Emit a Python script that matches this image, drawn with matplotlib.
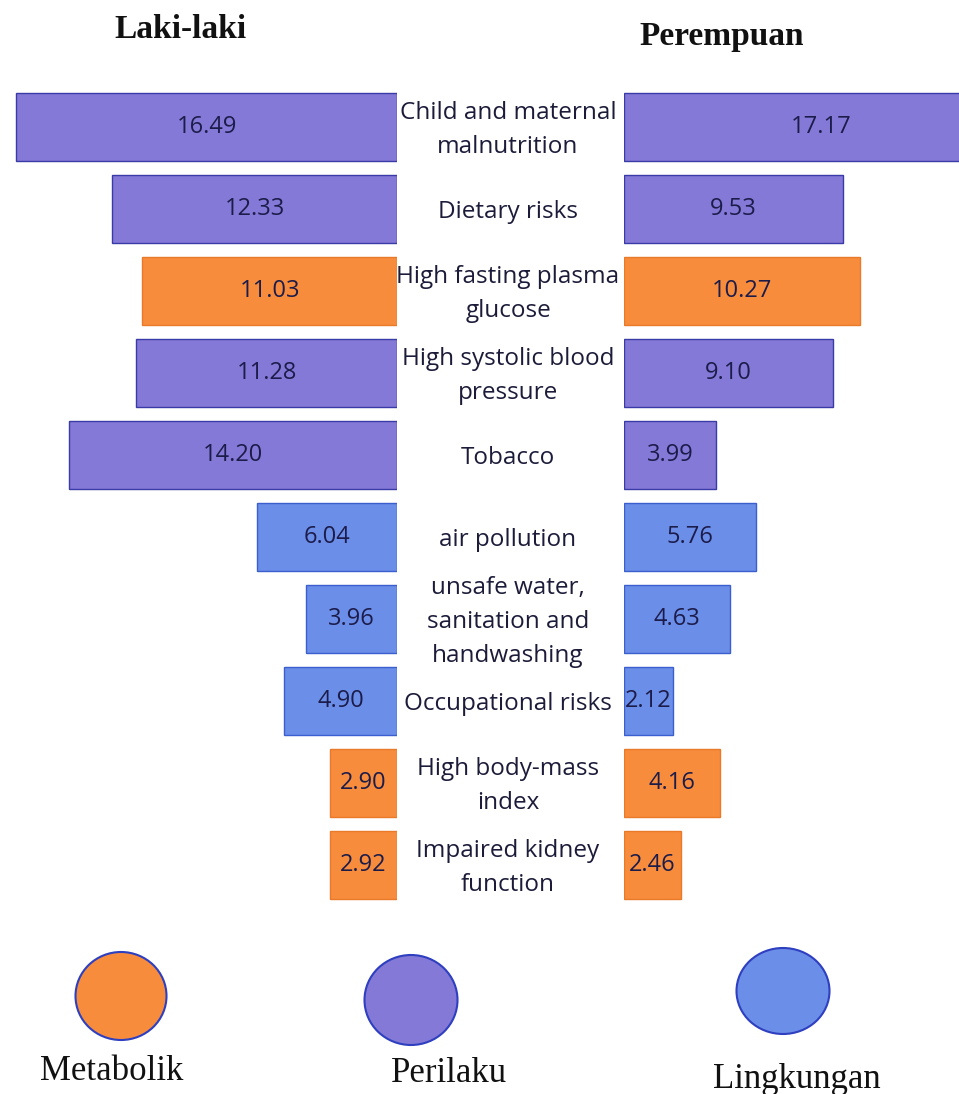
import matplotlib
matplotlib.use("Agg")
import matplotlib.pyplot as plt
from matplotlib.patches import Ellipse

categories = ["Child and maternal\nmalnutrition", "Dietary risks",
              "High fasting plasma\nglucose", "High systolic blood\npressure",
              "Tobacco", "air pollution",
              "unsafe water,\nsanitation and\nhandwashing",
              "Occupational risks", "High body-mass\nindex",
              "Impaired kidney\nfunction"]
male = [16.49, 12.33, 11.03, 11.28, 14.20, 6.04, 3.96, 4.90, 2.90, 2.92]
female = [17.17, 9.53, 10.27, 9.10, 3.99, 5.76, 4.63, 2.12, 4.16, 2.46]
groups = ["Perilaku", "Perilaku", "Metabolik", "Perilaku", "Perilaku",
          "Lingkungan", "Lingkungan", "Lingkungan", "Metabolik", "Metabolik"]
legend_groups = ["Metabolik", "Perilaku", "Lingkungan"]
headers = ["Laki-laki", "Perempuan"]

fill = {"Metabolik": "#f78c3c", "Perilaku": "#8479d6", "Lingkungan": "#6b8ee8"}
edge = {"Metabolik": "#e87a2a", "Perilaku": "#3a3aa8", "Lingkungan": "#3c5fd0"}

W, H = 959, 1094
fig = plt.figure(figsize=(W / 100, H / 100), dpi=100)

pxL = 23.1  # pixels per unit, left
pxR = 23.0
top, bottom = 86, 906
ax_h = (bottom - top) / H
ax_y = 1 - bottom / H

left_edge = 397
axL = fig.add_axes([0, ax_y, left_edge / W, ax_h])
right_start = 624
axR = fig.add_axes([right_start / W, ax_y, (W - right_start) / W, ax_h])

n = len(categories)
ypos = list(range(n))
colsF = [fill[g] for g in groups]
colsE = [edge[g] for g in groups]
num_color = "#1c1c4a"
num_font = ["Open Sans", "DejaVu Sans"]

axL.barh(ypos, male, height=0.83, color=colsF, edgecolor=colsE, linewidth=1.0)
axL.set_xlim(left_edge / pxL, 0)
axR.barh(ypos, female, height=0.83, color=colsF, edgecolor=colsE, linewidth=1.0)
axR.set_xlim(0, (W - right_start) / pxR)
for a in (axL, axR):
    a.set_ylim(n - 0.5, -0.5)
    a.axis("off")

for i, v in enumerate(male):
    axL.text(v / 2, i, f"{v:.2f}", ha="center", va="center", fontsize=17,
             color=num_color, family=num_font)
for i, v in enumerate(female):
    axR.text(v / 2, i, f"{v:.2f}", ha="center", va="center", fontsize=17,
             color=num_color, family=num_font)

# overlay axes for labels / legend in pixel coordinates
ov = fig.add_axes([0, 0, 1, 1])
ov.set_xlim(0, W)
ov.set_ylim(H, 0)
ov.axis("off")
ov.patch.set_alpha(0)

row_h = (bottom - top) / n
for i, c in enumerate(categories):
    ov.text(508, top + row_h * (i + 0.5) + 3, c, ha="center", va="center",
            fontsize=17.5, color="#1c1c3a", family=num_font, linespacing=1.55)

ov.text(180, 30, headers[0], ha="center", va="center", fontsize=24,
        fontweight="bold", family="Liberation Serif", color="#111111")
ov.text(722, 36, headers[1], ha="center", va="center", fontsize=24,
        fontweight="bold", family="Liberation Serif", color="#111111")

ell = [(121, 996, 91, 88), (411, 1000, 93, 90), (783, 991, 93, 86)]
lab = [(112, 1071), (449, 1073), (797, 1079)]
for g, (cx, cy, w, h), (lx, ly) in zip(legend_groups, ell, lab):
    ov.add_patch(Ellipse((cx, cy), w, h, facecolor=fill[g], edgecolor="#2e3fc0",
                         linewidth=1.5))
    ov.text(lx, ly, g, ha="center", va="center", fontsize=25,
            family="Liberation Serif", color="#111111")

fig.savefig("out.png", dpi=100)
